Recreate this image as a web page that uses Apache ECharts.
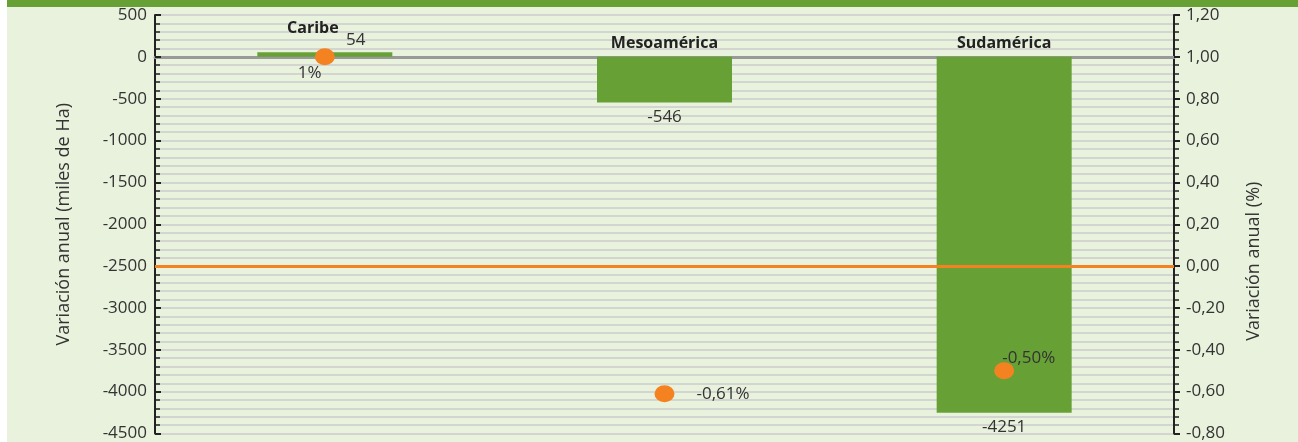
<!DOCTYPE html>
<html>
<head>
<meta charset="utf-8">
<script src="https://cdn.jsdelivr.net/npm/echarts@6/dist/echarts.min.js"></script>
<style>
  html, body { margin: 0; padding: 0; background: #fff; }
  #chart { width: 1298px; height: 442px; }
</style>
</head>
<body>
<div id="chart"></div>
<script>
// datos
const regiones = ['Caribe', 'Mesoamérica', 'Sudamérica'];
const variacionHa = [54, -546, -4251];        // miles de Ha
const variacionPct = [1, -0.61, -0.5];        // %

const fmtComa = (v) => v.toFixed(2).replace('.', ',');
const fmtPct = (v) => (Number.isInteger(v) ? v : fmtComa(v)) + '%';

const font = '"Open Sans", Lato, sans-serif';
const verde = '#67a136';
const naranja = '#f58220';

var chart = echarts.init(document.getElementById('chart'));

const option = {
  backgroundColor: '#fff',
  textStyle: { fontFamily: font },
  graphic: [
    { type: 'rect', shape: { x: 7, y: 0, width: 1291, height: 442 }, style: { fill: '#e9f2dd' }, z: -10 },
    { type: 'rect', shape: { x: 7, y: 0, width: 1291, height: 7 }, style: { fill: verde }, z: -9 },
  ],
  grid: { left: 155, right: 124, top: 15, bottom: 6 },
  xAxis: {
    type: 'category',
    data: regiones,
    axisLine: { onZero: true, lineStyle: { color: '#999', width: 3 } },
    axisTick: { show: false },
    axisLabel: { show: false },
    splitLine: { show: false },
  },
  yAxis: [
    {
      type: 'value',
      min: -4500,
      max: 500,
      interval: 500,
      name: 'Variación anual (miles de Ha)',
      nameLocation: 'middle',
      nameGap: 82,
      nameRotate: 90,
      nameTextStyle: { fontSize: 18, color: '#333', fontFamily: font },
      axisLine: { show: true, onZero: false, lineStyle: { color: '#222', width: 2 } },
      axisTick: { show: true, inside: true, length: 6, lineStyle: { color: '#222', width: 2 } },
      minorTick: { show: true, splitNumber: 5, length: 5, lineStyle: { color: '#222', width: 1.5 } },
      axisLabel: { fontSize: 17, color: '#333', margin: 8, formatter: (v) => String(v) },
      splitLine: { show: true, lineStyle: { color: '#d3d5d0', width: 2 } },
      minorSplitLine: { show: true, lineStyle: { color: '#d3d5d0', width: 2 } },
    },
    {
      type: 'value',
      min: -0.8,
      max: 1.2,
      interval: 0.2,
      position: 'right',
      name: 'Variación anual (%)',
      nameLocation: 'middle',
      nameGap: 71,
      nameRotate: 90,
      // desplaza el título hacia abajo como en el original
      nameTextStyle: { fontSize: 18, color: '#333', fontFamily: font, padding: [0, 74, 0, 0] },
      axisLine: { show: true, onZero: false, lineStyle: { color: '#222', width: 2 } },
      axisTick: { show: true, length: 6, lineStyle: { color: '#222', width: 2 } },
      minorTick: { show: true, splitNumber: 5, length: 5, lineStyle: { color: '#222', width: 1.5 } },
      axisLabel: { fontSize: 17, color: '#333', margin: 12, formatter: (v) => fmtComa(v) },
      splitLine: { show: false },
    },
  ],
  series: [
    {
      type: 'bar',
      data: variacionHa,
      barWidth: 135,
      itemStyle: { color: verde },
      label: {
        show: true,
        position: 'outside',
        distance: 6,
        fontSize: 17,
        color: '#333',
      },
      labelLayout: (p) => (p.dataIndex === 0 ? { dx: 31, dy: 2 } : {}),
    },
    {
      // nombres de región sobre las barras
      type: 'bar',
      data: variacionHa,
      barWidth: 135,
      barGap: '-100%',
      itemStyle: { color: 'transparent' },
      silent: true,
      label: {
        show: true,
        position: 'top',
        distance: 5,
        fontSize: 16,
        fontWeight: 'bold',
        color: '#222',
        formatter: (p) => p.name,
      },
      labelLayout: (p) => (p.dataIndex === 0 ? { dx: -12, dy: -11 } : {}),
    },
    {
      type: 'scatter',
      yAxisIndex: 1,
      data: variacionPct,
      symbolSize: [20, 17],
      itemStyle: { color: naranja, opacity: 1 },
      z: 5,
      label: {
        show: true,
        position: 'right',
        distance: 22,
        fontSize: 17,
        color: '#333',
        formatter: (p) => fmtPct(p.value),
      },
      labelLayout: (p) => {
        if (p.dataIndex === 0) return { dx: -59, dy: 16 };
        if (p.dataIndex === 2) return { dx: -34, dy: -13 };
        return {};
      },
      markLine: {
        silent: true,
        symbol: 'none',
        label: { show: false },
        lineStyle: { color: naranja, width: 3, type: 'solid' },
        data: [{ yAxis: 0 }],
      },
    },
  ],
};
chart.setOption(option);
</script>
</body>
</html>
